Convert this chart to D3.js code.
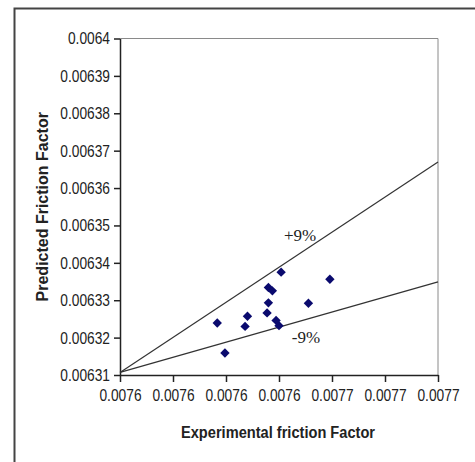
<!DOCTYPE html>
<html>
<head>
<meta charset="utf-8">
<script src="https://cdn.jsdelivr.net/npm/d3@7"></script>
<style>
  html, body { margin: 0; padding: 0; background: #fff; }
  svg { display: block; }
</style>
</head>
<body>
<svg id="chart" width="475" height="462"></svg>
<script>
// Measured friction factors: experimental (x) vs predicted (y)
const experimental = [0.0076167, 0.0076196, 0.0076272, 0.0076281, 0.0076355, 0.0076360,
                      0.0076360, 0.0076375, 0.0076389, 0.0076400, 0.0076408, 0.0076511, 0.0076592];
const predicted    = [0.0063239, 0.0063159, 0.0063230, 0.0063257, 0.0063266, 0.0063293,
                      0.0063334, 0.0063325, 0.0063246, 0.0063232, 0.0063375, 0.0063292, 0.0063356];

// Error band lines (start and end points in data units)
const bandNames = ["+9%", "-9%"];
const bandX = [0.00758, 0.0077];
const bandUpperY = [0.0063107, 0.0063670];
const bandLowerY = [0.0063107, 0.0063349];

// Axis ticks and their labels
const xTickValues = [0.00758, 0.00760, 0.00762, 0.00764, 0.00766, 0.00768, 0.00770];
const xTickLabels = ["0.0076", "0.0076", "0.0076", "0.0076", "0.0077", "0.0077", "0.0077"];
const yTickValues = [0.00631, 0.00632, 0.00633, 0.00634, 0.00635, 0.00636, 0.00637, 0.00638, 0.00639, 0.0064];
const yTickLabels = ["0.00631", "0.00632", "0.00633", "0.00634", "0.00635", "0.00636", "0.00637", "0.00638", "0.00639", "0.0064"];

const svg = d3.select("#chart");
const margin = { left: 120, top: 38.5, right: 475 - 438, bottom: 462 - 375 };
const W = 475, H = 462;

const x = d3.scaleLinear().domain([0.00758, 0.0077]).range([margin.left, W - margin.right]);
const y = d3.scaleLinear().domain([0.00631, 0.0064]).range([H - margin.bottom, margin.top]);

const sans = "'Liberation Sans', Arial, sans-serif";
const serif = "'Liberation Serif', 'Times New Roman', serif";
const squeeze = 0.86; // horizontal condensing for the narrow label face

// Outer chart frame (cropped on the right and bottom)
svg.append("path")
  .attr("d", `M14.5,${H + 5} L14.5,8.5 L${W + 5},8.5`)
  .attr("fill", "none").attr("stroke", "#444").attr("stroke-width", 2);

// Plot area border (top/right in gray)
svg.append("path")
  .attr("d", `M${x(0.00758)},${y(0.0064)} L${x(0.0077)},${y(0.0064)} L${x(0.0077)},${y(0.00631)}`)
  .attr("fill", "none").attr("stroke", "#8a8a8a").attr("stroke-width", 1);

// Axes
const xAxis = d3.axisBottom(x).tickValues(xTickValues)
  .tickFormat((d, i) => xTickLabels[i]).tickSize(7).tickSizeOuter(0).tickPadding(8);
const yAxis = d3.axisLeft(y).tickValues(yTickValues)
  .tickFormat((d, i) => yTickLabels[i]).tickSize(6).tickSizeOuter(0).tickPadding(4);

const gx = svg.append("g").attr("transform", `translate(0,${y(0.00631)})`).call(xAxis);
const gy = svg.append("g").attr("transform", `translate(${x(0.00758)},0)`).call(yAxis);

[gx, gy].forEach(g => {
  g.selectAll(".domain").attr("stroke", "#222").attr("stroke-width", 1.5);
  g.selectAll(".tick line").attr("stroke", "#222").attr("stroke-width", 1.5);
  g.selectAll(".tick text").attr("fill", "#222")
    .style("font-family", sans).style("font-size", "16px");
});
gx.selectAll(".tick text").attr("dy", "0.71em").attr("transform", `scale(${squeeze},1)`);
gy.selectAll(".tick text").attr("dy", "0.34em")
  .attr("x", -10 / squeeze).attr("transform", `scale(${squeeze},1)`);

// Error band lines
const line = d3.line().x(d => x(d[0])).y(d => y(d[1]));
[bandUpperY, bandLowerY].forEach(ys => {
  svg.append("path")
    .datum(bandX.map((v, i) => [v, ys[i]]))
    .attr("d", line)
    .attr("fill", "none").attr("stroke", "#333").attr("stroke-width", 1.2);
});

// Band labels
svg.append("text").attr("x", 300).attr("y", 241).attr("text-anchor", "middle")
  .style("font-family", serif).style("font-size", "17px")
  .attr("fill", "#222").text(bandNames[0]);
svg.append("text").attr("x", 306).attr("y", 343).attr("text-anchor", "middle")
  .style("font-family", serif).style("font-size", "17px")
  .attr("fill", "#222").text(bandNames[1]);

// Data markers (navy diamonds)
const diamond = d3.symbol().type(d3.symbolSquare).size(44);
svg.append("g").selectAll("path")
  .data(experimental.map((v, i) => [v, predicted[i]]))
  .join("path")
  .attr("d", diamond)
  .attr("transform", d => `translate(${x(d[0])},${y(d[1])}) rotate(45)`)
  .attr("fill", "#0a0a6e");

// Axis titles
svg.append("text")
  .attr("transform", `translate(48,${(y(0.0064) + y(0.00631)) / 2}) rotate(-90)`)
  .attr("text-anchor", "middle")
  .style("font-family", sans)
  .style("font-size", "16px").style("font-weight", "bold")
  .attr("fill", "#222").text("Predicted Friction Factor");

svg.append("text")
  .attr("transform", `translate(278,438) scale(0.86,1)`)
  .attr("text-anchor", "middle")
  .style("font-family", sans)
  .style("font-size", "17px").style("font-weight", "bold")
  .attr("fill", "#222").text("Experimental friction Factor");
</script>
</body>
</html>
